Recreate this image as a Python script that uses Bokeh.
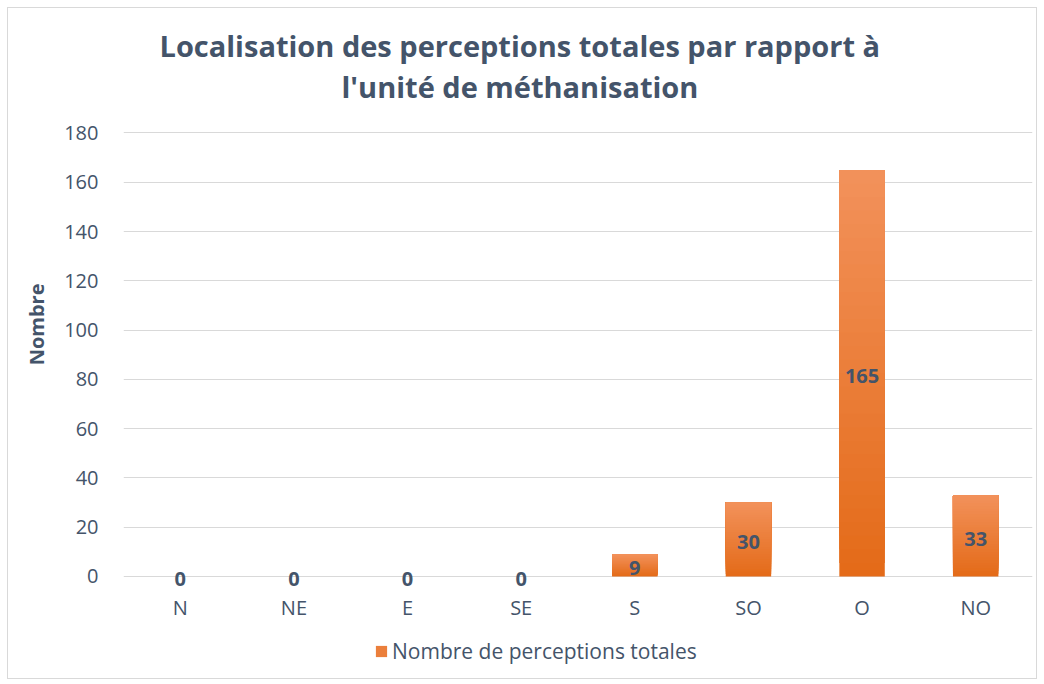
import math
from bokeh.plotting import figure
from bokeh.models import Legend, LegendItem, FixedTicker, ColumnDataSource, Title
from bokeh.core.properties import value
from bokeh.embed import file_html
from bokeh.resources import INLINE

categories = ["N", "NE", "E", "SE", "S", "SO", "O", "NO"]
counts = [0, 0, 0, 0, 9, 30, 165, 33]
y_ticks = [0, 20, 40, 60, 80, 100, 120, 140, 160, 180]
title_lines = ["Localisation des perceptions totales par rapport à",
               "l'unité de méthanisation"]
y_title = "Nombre"
series_name = "Nombre de perceptions totales"

FONT = "Open Sans"
TXT = "#44546A"
BOTTOM_RGB = (0xE4, 0x6B, 0x19)
TOP_RGB = (0xF2, 0x91, 0x5A)

# frame extends below zero to host category labels and legend
p = figure(x_range=categories, y_range=(-39.8, 181), width=1030, height=672,
           output_backend="svg", toolbar_location=None,
           min_border_left=115, min_border_right=6,
           min_border_top=122, min_border_bottom=6)
p.styles = {"margin-left": "7px", "margin-top": "7px",
            "border": "1px solid #D9D9D9", "box-sizing": "border-box"}
p.outline_line_color = None
p.x_range.range_padding = 0

# gradient bars: overlapping slices from bottom to top
N = 30
mid = None
for i in range(N):
    t = i / (N - 1)
    col = "#%02x%02x%02x" % tuple(int(round(b + (tp - b) * t)) for b, tp in zip(BOTTOM_RGB, TOP_RGB))
    src = ColumnDataSource(dict(x=categories, top=counts,
                                bottom=[c * i / N for c in counts]))
    r = p.vbar(x="x", top="top", bottom="bottom", width=0.4, source=src,
               fill_color=col, line_color=None)
    if i == N // 2:
        mid = r

# data labels
lab_src = ColumnDataSource(dict(x=categories, y=[c / 2 for c in counts],
                                t=[str(c) for c in counts]))
p.text(x="x", y="y", text="t", source=lab_src, text_align="center",
       text_baseline="middle", text_font=value(FONT), text_font_style="bold",
       text_font_size="20px", text_color=TXT, y_offset=3)

# category labels under the baseline
cat_src = ColumnDataSource(dict(x=categories, y=[0 for _ in categories], t=categories))
p.text(x="x", y="y", text="t", source=cat_src, text_align="center",
       text_baseline="middle", text_font=value(FONT), text_font_size="20px",
       text_color=TXT, y_offset=31)

# axes
p.xaxis.visible = False
p.yaxis.ticker = FixedTicker(ticks=y_ticks)
p.yaxis.axis_line_color = None
p.yaxis.major_tick_line_color = None
p.yaxis.minor_tick_line_color = None
p.yaxis.major_label_standoff = 19
p.yaxis.major_label_text_font = FONT
p.yaxis.major_label_text_font_size = "20px"
p.yaxis.major_label_text_color = TXT

p.xgrid.grid_line_color = None
p.ygrid.grid_line_color = "#D9D9D9"
p.ygrid.ticker = FixedTicker(ticks=y_ticks)

# y title
p.add_layout(Title(text=y_title, align="right", offset=153, text_font=FONT,
                   text_font_style="bold", text_font_size="20px",
                   text_color=TXT, standoff=24), "left")

# titles: spacer, line 2, then line 1 (outermost)
p.add_layout(Title(text=" ", text_font_size="1px", standoff=22), "above")
p.add_layout(Title(text=title_lines[1], align="left", offset=218, text_font=FONT,
                   text_font_style="bold", text_font_size="29px",
                   text_color=TXT, standoff=0), "above")
p.title.text = title_lines[0]
p.title.align = "left"
p.title.offset = 36
p.title.text_font = FONT
p.title.text_font_style = "bold"
p.title.text_font_size = "29px"
p.title.text_color = TXT
p.title.standoff = 0

legend = Legend(items=[LegendItem(label=series_name, renderers=[mid])],
                location=(251, 9), orientation="horizontal",
                glyph_width=14, glyph_height=14, padding=0, margin=0,
                label_text_font=FONT, label_text_font_size="21px",
                label_text_color=TXT, border_line_color=None,
                background_fill_alpha=0, label_standoff=4)
p.add_layout(legend)

open("out.html", "w").write(file_html(p, INLINE))
